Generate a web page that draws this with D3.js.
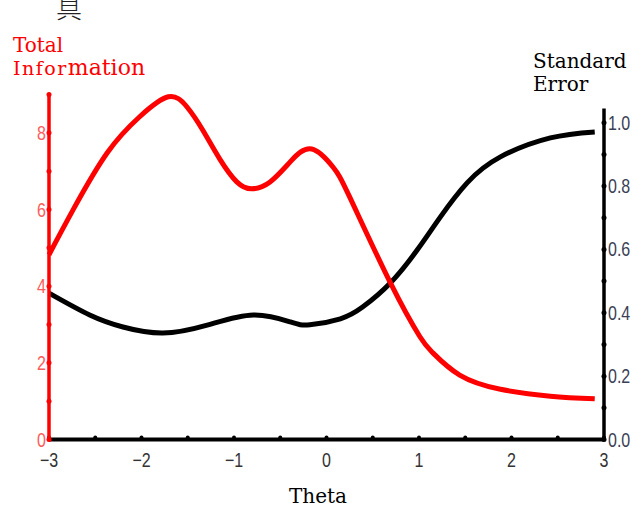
<!DOCTYPE html>
<html>
<head>
<meta charset="utf-8">
<script src="https://cdn.jsdelivr.net/npm/d3@7"></script>
<style>
  body { margin: 0; background: #fff; }
  svg { display: block; }
  .tick-label { font-family: "Liberation Sans", Arial, sans-serif; font-size: 20px; }
  .title { font-family: "DejaVu Serif", serif; font-size: 20px; }
</style>
</head>
<body>
<svg id="chart" width="642" height="510"></svg>
<script>
// Test information curve (left axis)
var infoTheta = [-3, -2.74, -2.37, -2.02, -1.71, -1.51, -1.34, -1.15, -0.97, -0.81, -0.61, -0.39, -0.16, 0.07, 0.25, 0.69, 1.01, 1.15, 1.44, 1.88, 2.42, 2.9];
var infoValues = [4.82, 5.99, 7.48, 8.42, 8.94, 8.68, 8.08, 7.3, 6.72, 6.54, 6.72, 7.25, 7.58, 7.11, 6.33, 4.09, 2.68, 2.26, 1.68, 1.31, 1.13, 1.06];

// Standard error curve (right axis)
var seTheta = [-3, -2.56, -2.2, -1.77, -1.29, -0.79, -0.39, -0.18, 0.15, 0.39, 0.69, 0.98, 1.23, 1.52, 1.88, 2.42, 2.9];
var seValues = [0.462, 0.393, 0.355, 0.336, 0.361, 0.393, 0.371, 0.362, 0.381, 0.418, 0.494, 0.598, 0.702, 0.81, 0.892, 0.952, 0.971];

var xTicks = [-3, -2, -1, 0, 1, 2, 3];
var xMinorTicks = d3.range(-3, 3.01, 0.5);
var leftTicks = [0, 2, 4, 6, 8];
var leftMinorTicks = d3.range(0, 9.01, 1);
var rightTicks = [0, 0.2, 0.4, 0.6, 0.8, 1.0];
var rightMinorTicks = d3.range(0, 1.001, 0.1);

var svg = d3.select("#chart");

var x = d3.scaleLinear().domain([-3, 3]).range([49, 604]);
var yL = d3.scaleLinear().domain([0, 9]).range([439.5, 94.5]);
var yR = d3.scaleLinear().domain([0, 1]).range([439.5, 122.7]);

var red = "#ff0000";

// narrow labels: squeeze the sans font horizontally
function label(sel, fx, fy, anchor, color, fmt) {
    sel.append("text")
        .attr("class", "tick-label")
        .attr("transform", function(d) { return "translate(" + fx(d) + "," + fy(d) + ") scale(0.8,1)"; })
        .attr("text-anchor", anchor)
        .attr("fill", color)
        .text(fmt);
}

// curves
var lineInfo = d3.line()
    .x(function(d, i) { return x(infoTheta[i]); })
    .y(function(d) { return yL(d); })
    .curve(d3.curveNatural);

var lineSE = d3.line()
    .x(function(d, i) { return x(seTheta[i]); })
    .y(function(d) { return yR(d); })
    .curve(d3.curveNatural);

svg.append("path")
    .datum(seValues)
    .attr("d", lineSE)
    .attr("fill", "none")
    .attr("stroke", "#000")
    .attr("stroke-width", 5);

svg.append("path")
    .datum(infoValues)
    .attr("d", lineInfo)
    .attr("fill", "none")
    .attr("stroke", red)
    .attr("stroke-width", 5);

// x axis
svg.append("line")
    .attr("x1", x(-3)).attr("x2", x(3))
    .attr("y1", yL(0)).attr("y2", yL(0))
    .attr("stroke", "#000").attr("stroke-width", 4);

svg.selectAll(".xdot").data(xMinorTicks).enter().append("circle")
    .attr("cx", function(d) { return x(d); })
    .attr("cy", yL(0) - 2)
    .attr("r", 2)
    .attr("fill", "#000");

label(svg.selectAll(".xlab").data(xTicks).enter(),
    function(d) { return x(d); }, function() { return 467; }, "middle", "#333",
    function(d) { return d < 0 ? "\u2212" + (-d) : d; });

// left axis
svg.append("line")
    .attr("x1", x(-3)).attr("x2", x(-3))
    .attr("y1", yL(9)).attr("y2", yL(0))
    .attr("stroke", red).attr("stroke-width", 3.5);

svg.selectAll(".ldot").data(leftMinorTicks).enter().append("circle")
    .attr("cx", x(-3))
    .attr("cy", function(d) { return yL(d); })
    .attr("r", 2.5)
    .attr("fill", red);

label(svg.selectAll(".llab").data(leftTicks).enter(),
    function() { return 46; }, function(d) { return yL(d) + 7; }, "end", "#ff5a5a",
    function(d) { return d; });

// right axis
svg.append("line")
    .attr("x1", x(3)).attr("x2", x(3))
    .attr("y1", yR(1.045)).attr("y2", yR(0))
    .attr("stroke", "#000").attr("stroke-width", 3.5);

svg.selectAll(".rdot").data(rightMinorTicks).enter().append("circle")
    .attr("cx", x(3))
    .attr("cy", function(d) { return yR(d); })
    .attr("r", 2.5)
    .attr("fill", "#000");

label(svg.selectAll(".rlab").data(rightTicks).enter(),
    function() { return 608; }, function(d) { return yR(d) + 7; }, "start", "#3a3f55",
    function(d) { return d.toFixed(1); });

// titles
svg.append("text")
    .attr("x", 56).attr("y", 18)
    .attr("font-family", "Noto Sans CJK JP, sans-serif")
    .attr("font-size", 26)
    .attr("font-weight", 300)
    .attr("fill", "#222")
    .text("具");

svg.append("text").attr("class", "title").attr("fill", red)
    .attr("x", 13).attr("y", 52).text("Total");
var t2 = svg.append("text").attr("class", "title").attr("fill", red).attr("x", 13).attr("y", 75);
t2.append("tspan").attr("font-size", 19).attr("letter-spacing", 1.5).text("Infor");
t2.append("tspan").attr("font-size", 22).text("mation");

svg.append("text").attr("class", "title").attr("x", 533).attr("y", 68).attr("fill", "#000").text("Standard");
svg.append("text").attr("class", "title").attr("x", 533).attr("y", 91).attr("fill", "#000").text("Error");

svg.append("text").attr("class", "title")
    .attr("x", 318).attr("y", 503)
    .attr("text-anchor", "middle")
    .attr("fill", "#000")
    .text("Theta");
</script>
</body>
</html>
